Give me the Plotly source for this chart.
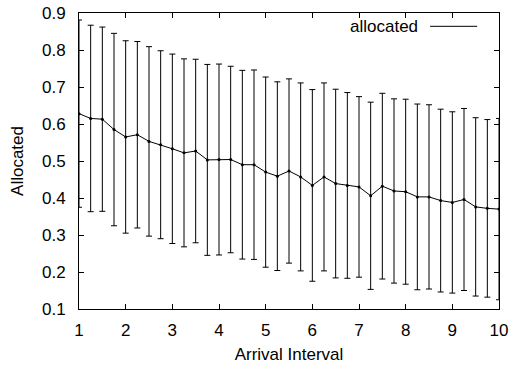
import plotly.graph_objects as go

arrival_interval = [1.0, 1.25, 1.5, 1.75, 2.0, 2.25, 2.5, 2.75, 3.0, 3.25, 3.5, 3.75,
                    4.0, 4.25, 4.5, 4.75, 5.0, 5.25, 5.5, 5.75, 6.0, 6.25, 6.5, 6.75,
                    7.0, 7.25, 7.5, 7.75, 8.0, 8.25, 8.5, 8.75, 9.0, 9.25, 9.5, 9.75, 10.0]
allocated_mean = [0.628, 0.615, 0.613, 0.585, 0.565, 0.571, 0.553, 0.544, 0.533, 0.522, 0.527, 0.503,
                  0.504, 0.504, 0.490, 0.490, 0.470, 0.459, 0.473, 0.457, 0.434, 0.457, 0.439, 0.434,
                  0.430, 0.406, 0.432, 0.419, 0.417, 0.403, 0.403, 0.393, 0.388, 0.396, 0.376, 0.372, 0.370]
allocated_std = [0.253, 0.252, 0.249, 0.260, 0.260, 0.252, 0.256, 0.254, 0.256, 0.254, 0.248, 0.258,
                 0.258, 0.252, 0.255, 0.256, 0.257, 0.255, 0.249, 0.254, 0.259, 0.254, 0.255, 0.251,
                 0.244, 0.253, 0.251, 0.249, 0.250, 0.251, 0.249, 0.247, 0.245, 0.246, 0.241, 0.240, 0.245]

x_ticks = [1, 2, 3, 4, 5, 6, 7, 8, 9, 10]
y_ticks = [0.1, 0.2, 0.3, 0.4, 0.5, 0.6, 0.7, 0.8, 0.9]
y_tick_text = ["0.1", "0.2", "0.3", "0.4", "0.5", "0.6", "0.7", "0.8", "0.9"]

FONT = "Liberation Sans, Arial, Helvetica, sans-serif"

fig = go.Figure()
fig.add_trace(go.Scatter(
    x=arrival_interval, y=allocated_mean, mode="lines+markers", name="allocated",
    line=dict(color="black", width=1),
    marker=dict(color="black", size=3),
    error_y=dict(type="data", array=allocated_std, visible=True, color="black",
                 thickness=1, width=3),
    showlegend=False,
))

# legend (gnuplot style: label then line sample)
fig.add_annotation(xref="paper", yref="paper", x=0.812, y=0.955, text="allocated",
                   showarrow=False, xanchor="right", yanchor="middle",
                   font=dict(family=FONT, size=17, color="black"))
fig.add_shape(type="line", xref="paper", yref="paper", x0=0.836, x1=0.948, y0=0.955, y1=0.955,
              line=dict(color="black", width=1))

axis_common = dict(showline=True, linecolor="black", linewidth=1, mirror="allticks",
                   ticks="inside", ticklen=5, tickcolor="black", tickwidth=1,
                   showgrid=False, zeroline=False, automargin=False,
                   tickfont=dict(family=FONT, size=17, color="black"))

fig.update_xaxes(range=[1, 10], tickvals=x_ticks, ticktext=[str(v) for v in x_ticks],
                 title=dict(text="Arrival Interval", font=dict(family=FONT, size=17, color="black"), standoff=8),
                 ticklabelstandoff=6, **axis_common)
fig.update_yaxes(range=[0.1, 0.9], tickvals=y_ticks, ticktext=y_tick_text,
                 title=dict(text="Allocated", font=dict(family=FONT, size=17, color="black"), standoff=14),
                 ticklabelstandoff=9, **axis_common)

fig.update_layout(width=509, height=365, margin=dict(l=79, r=10, t=13, b=56),
                  plot_bgcolor="white", paper_bgcolor="white")

fig.write_html("out.html")
